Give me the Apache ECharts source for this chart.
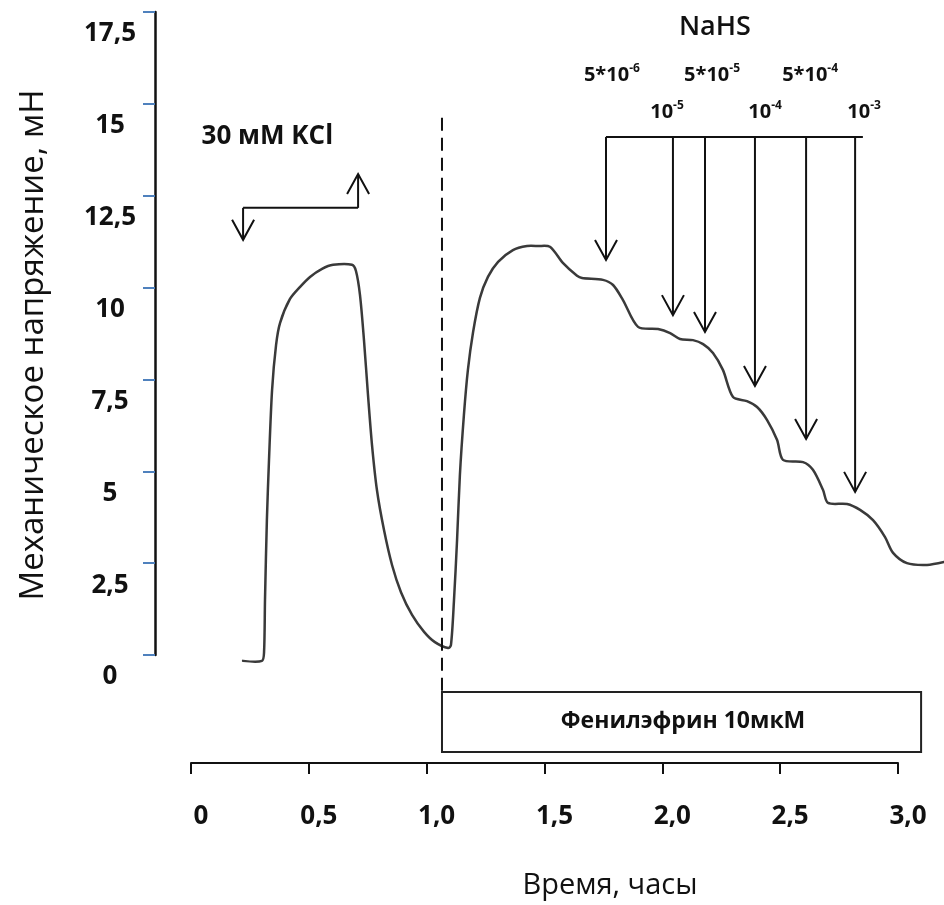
<!DOCTYPE html>
<html><head><meta charset="utf-8">
<script src="https://cdn.jsdelivr.net/npm/echarts@6/dist/echarts.min.js"></script>
<style>html,body{margin:0;padding:0;background:#fff}#c{width:944px;height:905px}</style>
</head><body><div id="c"></div>
<script>
// ---- data ----
const timeH = [0.221,0.301,0.310,0.314,0.322,0.331,0.344,0.361,0.378,0.420,0.463,0.505,0.556,0.603,0.683,0.700,0.717,0.734,0.751,0.768,0.789,0.819,0.853,0.891,0.938,0.989,1.035,1.091,1.103,1.116,1.129,1.141,1.158,1.175,1.197,1.226,1.260,1.303,1.366,1.426,1.472,1.523,1.578,1.638,1.659,1.748,1.791,1.833,1.897,1.982,2.033,2.075,2.130,2.173,2.215,2.257,2.300,2.359,2.402,2.444,2.487,2.512,2.597,2.639,2.682,2.703,2.784,2.839,2.894,2.945,2.979,3.038,3.123,3.195];
const tensionMN = [-0.16,-0.16,0.08,1.50,3.67,5.31,7.21,8.44,9.04,9.69,10.02,10.29,10.51,10.62,10.62,10.45,9.80,8.57,7.08,5.72,4.49,3.40,2.45,1.71,1.09,0.63,0.35,0.19,0.27,1.50,3.13,4.90,6.53,7.76,8.79,9.72,10.29,10.70,11.02,11.13,11.13,11.11,10.67,10.32,10.26,10.21,10.07,9.66,8.93,8.87,8.76,8.60,8.57,8.46,8.22,7.76,7.02,6.91,6.75,6.40,5.85,5.31,5.25,5.04,4.49,4.14,4.11,3.95,3.67,3.21,2.78,2.50,2.45,2.53];

const yTickValues = [0,2.5,5,7.5,10,12.5,15,17.5];
const yTickLabels = ['0','2,5','5','7,5','10','12,5','15','17,5'];
const xTickValues = [0,0.5,1,1.5,2,2.5,3];
const xTickLabels = ['0','0,5','1,0','1,5','2,0','2,5','3,0'];

// NaHS additions: arrow x positions (h), arrow tip levels (mN), bracket level
const nahsX = [1.761,2.045,2.181,2.393,2.610,2.818];
const nahsTipY = [10.75,9.25,8.79,7.32,5.88,4.44];
const nahsBar = [14.10, 2.851];           // [level mN, bracket end h]
// KCl wash arrow: [left x, right x, bar level, down tip, up tip]
const kclArrow = [0.221, 0.709, 12.17, 11.30, 13.09];
// Phenylephrine application: dashed marker [x, top, bottom], box [x1, y1, x2, y2]
const peMarker = [1.065, 14.62, -1.00];
const peBox = [1.065, -1.01, 3.098, -2.64];

const annotationText = ['{k|30 мМ KCl}','{n|NaHS}','{c|5*10}{s|-6}','{c|5*10}{s|-5}','{c|5*10}{s|-4}','{c|10}{s|-5}','{c|10}{s|-4}','{c|10}{s|-3}','{p|Фенилэфрин 10мкМ}'];
const annotationX = [0.324, 2.223, 1.786, 2.211, 2.627, 2.020, 2.436, 2.856, 2.088];
const annotationY = [14.10, 17.07, 15.79, 15.79, 15.79, 14.78, 14.78, 14.78, -1.82];

// ---- build ----
const curve = timeH.map((t,i)=>[t, tensionMN[i]]);
const arrowRows = [];
arrowRows.push([nahsX[0], nahsBar[0], nahsBar[1], nahsBar[0], 0]);
nahsX.forEach((x,i)=>arrowRows.push([x, nahsBar[0], x, nahsTipY[i], 1]));
arrowRows.push([kclArrow[0], kclArrow[2], kclArrow[1], kclArrow[2], 0]);
arrowRows.push([kclArrow[0], kclArrow[2], kclArrow[0], kclArrow[3], 1]);
arrowRows.push([kclArrow[1], kclArrow[2], kclArrow[1], kclArrow[4], 1]);
const notes = annotationX.map((x,i)=>[x, annotationY[i], i]);

const FONT = 'Open Sans';
const INK = '#111';

// whole trace drawn once (first item), every vertex mapped through the cartesian scales
function renderCurve(params, api){
  if (params.dataIndex !== 0) return null;
  const pts = curve.map(d => api.coord(d));
  return {type:'polyline', shape:{points:pts, smooth:0.28},
    style:{stroke:'#3a3a3a', lineWidth:2.5, fill:null, lineJoin:'round', lineCap:'round'}};
}
function renderArrow(params, api){
  const p1 = api.coord([api.value(0), api.value(1)]);
  const p2 = api.coord([api.value(2), api.value(3)]);
  const children = [{type:'line', shape:{x1:p1[0],y1:p1[1],x2:p2[0],y2:p2[1]}, style:{stroke:INK, lineWidth:2}}];
  if (api.value(4)) {
    const dx=p2[0]-p1[0], dy=p2[1]-p1[1], L=Math.hypot(dx,dy)||1;
    const ux=dx/L, uy=dy/L, nx=-uy, ny=ux, back=20, half=11;
    children.push({type:'polyline', shape:{points:[
      [p2[0]-ux*back+nx*half, p2[1]-uy*back+ny*half],[p2[0],p2[1]],
      [p2[0]-ux*back-nx*half, p2[1]-uy*back-ny*half]]},
      style:{stroke:INK, lineWidth:2, fill:null}});
  }
  return {type:'group', children};
}
function renderBox(params, api){
  const a = api.coord([api.value(0), api.value(1)]);
  const b = api.coord([api.value(2), api.value(3)]);
  return {type:'rect', shape:{x:a[0], y:a[1], width:b[0]-a[0], height:b[1]-a[1]},
    style:{stroke:'#222', lineWidth:2, fill:null}};
}
const noteRich = {
  k:{fontFamily:FONT, fontWeight:'bold', fontSize:26, fill:INK},
  n:{fontFamily:FONT, fontWeight:600, fontSize:27, fill:INK},
  c:{fontFamily:FONT, fontWeight:'bold', fontSize:20, fill:INK, lineHeight:24, verticalAlign:'middle'},
  s:{fontFamily:FONT, fontWeight:'bold', fontSize:12, fill:INK, lineHeight:10, verticalAlign:'top'},
  p:{fontFamily:FONT, fontWeight:'bold', fontSize:23, fill:INK}
};
function renderNote(params, api){
  const p = api.coord([api.value(0), api.value(1)]);
  return {type:'text', x:p[0], y:p[1],
    style:{text:annotationText[api.value(2)], align:'center', verticalAlign:'middle', fill:INK, rich:noteRich}};
}

const chart = echarts.init(document.getElementById('c'), null, {renderer:'canvas'});
chart.setOption({
  backgroundColor:'#fff',
  animation:false,
  grid:{left:191, right:46, top:12, bottom:250},
  xAxis:{
    type:'value', min:0, max:3, interval:0.5, offset:108,
    axisLine:{show:true, onZero:false, lineStyle:{color:INK, width:2}},
    axisTick:{show:true, length:11, lineStyle:{color:INK, width:2}, customValues:xTickValues},
    axisLabel:{customValues:xTickValues, formatter:(v)=>xTickLabels[xTickValues.indexOf(v)] ?? '',
      margin:41, fontFamily:FONT, fontWeight:'bold', fontSize:26, color:INK, padding:[0,0,0,20]},
    splitLine:{show:false},
    name:'Время, часы', nameLocation:'middle', nameGap:108,
    nameTextStyle:{fontFamily:FONT, fontSize:29, color:INK, padding:[0,0,0,131]}
  },
  yAxis:{
    type:'value', min:0, max:17.5, interval:2.5, offset:36,
    axisLine:{show:true, onZero:false, lineStyle:{color:INK, width:2.5}},
    axisTick:{show:true, length:12, lineStyle:{color:'#4f81bd', width:2}},
    axisLabel:{formatter:(v)=>yTickLabels[yTickValues.indexOf(v)] ?? '', margin:45, align:'center',
      verticalAlign:'top', padding:[9,0,0,0],
      fontFamily:FONT, fontWeight:'bold', fontSize:26, color:INK},
    splitLine:{show:false},
    name:'Механическое напряжение, мН', nameLocation:'middle', nameRotate:90, nameGap:105,
    nameTextStyle:{fontFamily:FONT, fontSize:33, color:INK, padding:[0,23,0,0]}
  },
  series:[
    {type:'custom', name:'tension', renderItem:renderCurve, data:curve, clip:false, silent:true,
     encode:{x:0, y:1}},
    {type:'line', name:'pe-marker', data:[[peMarker[0],peMarker[1]],[peMarker[0],peMarker[2]]],
     symbol:'none', clip:false, lineStyle:{color:INK, width:2, type:[13,7]}, silent:true},
    {type:'custom', name:'arrows', renderItem:renderArrow, data:arrowRows, clip:false, silent:true,
     encode:{x:[0,2], y:[1,3]}},
    {type:'custom', name:'pe-box', renderItem:renderBox, data:[peBox], clip:false, silent:true,
     encode:{x:[0,2], y:[1,3]}},
    {type:'custom', name:'notes', renderItem:renderNote, data:notes, clip:false, silent:true,
     encode:{x:0, y:1}}
  ]
});
</script></body></html>
